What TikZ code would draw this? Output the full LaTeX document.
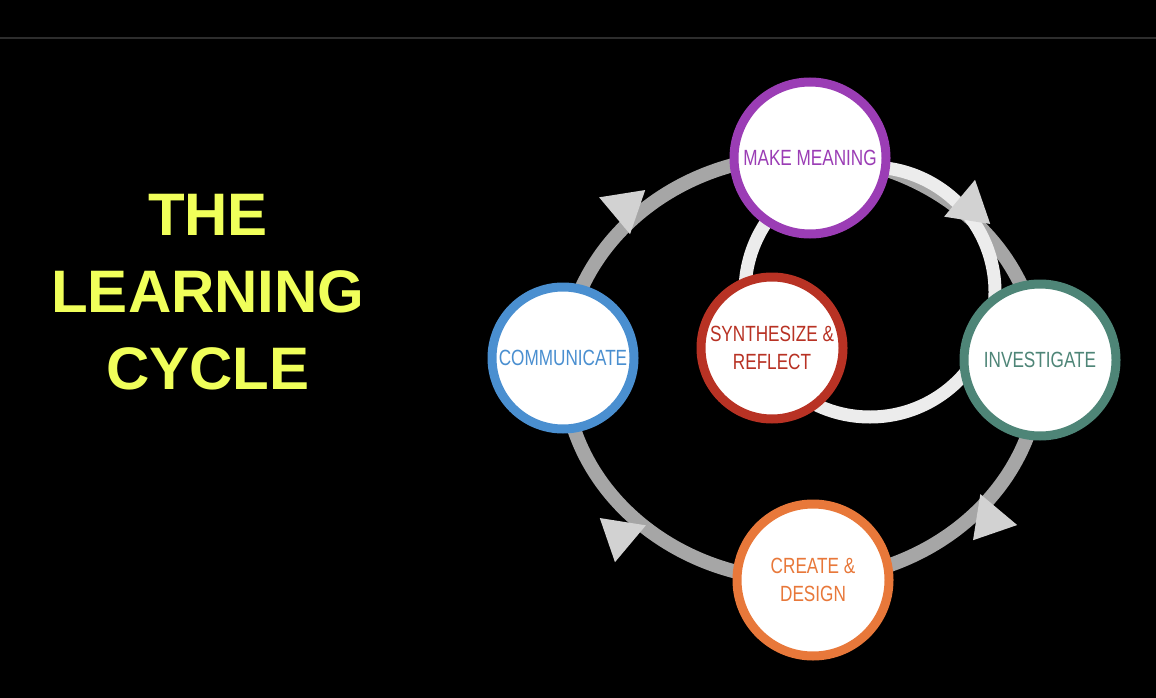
\documentclass[tikz,border=0pt]{standalone}
\usepackage{fontspec}
\setmainfont{Liberation Sans}
\newfontfamily\condf[FakeStretch=0.78]{Liberation Sans}
\usetikzlibrary{shapes.geometric}
\definecolor{ttl}{HTML}{F0FF5A}
\definecolor{cpur}{HTML}{9B3DB5}
\definecolor{cteal}{HTML}{4E8577}
\definecolor{corg}{HTML}{E8783A}
\definecolor{cblu}{HTML}{4A8FD0}
\definecolor{cred}{HTML}{B83224}
\tikzset{
 stage/.style={circle,fill=white,line width=9pt,minimum size=152pt,inner sep=0pt,align=center,font=\condf\fontsize{22}{28}\selectfont},
 tri/.style={isosceles triangle,isosceles triangle apex angle=62,fill=gray!35,minimum height=40pt,inner sep=0pt},
}
\begin{document}
\begin{tikzpicture}[x=1pt,y=-1pt]
\fill[black] (0,0) rectangle (1156,698);
\useasboundingbox (0,0) rectangle (1156,698);
\draw[gray!35!black,line width=1.5pt] (0,38) -- (1156,38);
\node[text=ttl,font=\bfseries\fontsize{60}{77}\selectfont,align=center] (title) at (208,292) {THE\\LEARNING\\CYCLE};
\draw[gray!70,line width=14pt] (802,368) ellipse [x radius=238,y radius=212];
\draw[gray!15,line width=13pt] (870,292) circle [radius=125];
\node[tri,rotate=40] (a1) at (625,207) {};
\node[tri,rotate=-40] (a2) at (970,207) {};
\node[tri,rotate=-130] (a3) at (990,520) {};
\node[tri,rotate=140] (a4) at (620,535) {};
\node[stage,draw=cpur,text=cpur] (mm) at (810,158) {MAKE MEANING};
\node[stage,draw=cteal,text=cteal] (inv) at (1040,360) {INVESTIGATE};
\node[stage,draw=corg,text=corg] (cd) at (813,580) {CREATE \&\\DESIGN};
\node[stage,draw=cblu,text=cblu,minimum size=142pt] (com) at (563,358) {COMMUNICATE};
\node[stage,draw=cred,text=cred,minimum size=142pt] (syn) at (772,348) {SYNTHESIZE \&\\REFLECT};
\end{tikzpicture}
\end{document}
